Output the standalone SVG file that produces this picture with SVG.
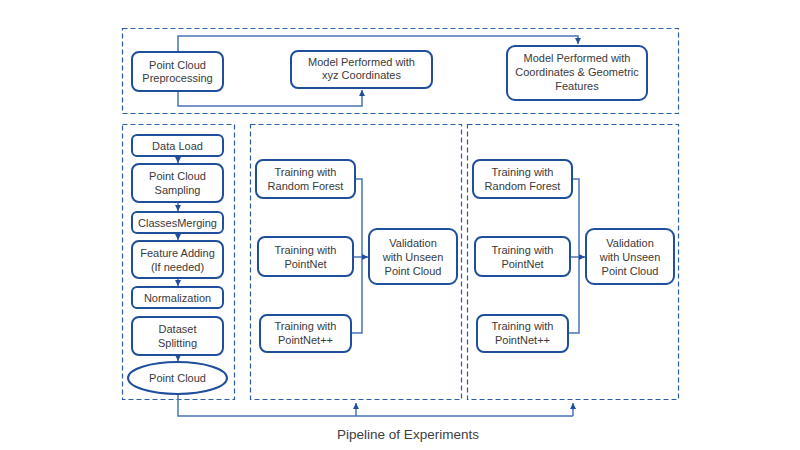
<svg xmlns="http://www.w3.org/2000/svg" width="800" height="450" viewBox="0 0 800 450">
<style>
.grp{fill:none;stroke:#2a5caa;stroke-width:1.2;stroke-dasharray:5,3}
.box{fill:#fff;stroke:#1f4e9c;stroke-width:2}
.t{font-family:"Liberation Sans",Arial,sans-serif;font-size:11px;fill:#3a3a3a;text-anchor:middle}
.cap{font-family:"Liberation Sans",Arial,sans-serif;font-size:13.5px;fill:#404040;text-anchor:middle}
.c{fill:none;stroke:#4a74b8;stroke-width:1.5}
</style>
<defs>
<marker id="a" viewBox="0 0 10 10" refX="10" refY="5" markerWidth="4" markerHeight="4" orient="auto" markerUnits="strokeWidth">
<path d="M0,0L10,5L0,10z" fill="#1f4e9c"/>
</marker>
</defs>
<rect width="800" height="450" fill="#fff"/>
<g id="groups">
<rect class="grp" x="122.5" y="28.5" width="556" height="85"/>
<rect class="grp" x="122.5" y="124.5" width="112" height="275"/>
<rect class="grp" x="250.5" y="124.5" width="211" height="275"/>
<rect class="grp" x="467.5" y="124.5" width="211" height="275"/>
</g>
<g id="connectors">
<path class="c" d="M178,52V36H578V44" marker-end="url(#a)"/>
<path class="c" d="M178,91V106H362V90" marker-end="url(#a)"/>
<path class="c" d="M178,156V163" marker-end="url(#a)"/>
<path class="c" d="M178,202V211" marker-end="url(#a)"/>
<path class="c" d="M178,233V240" marker-end="url(#a)"/>
<path class="c" d="M178,278V286" marker-end="url(#a)"/>
<path class="c" d="M178,355V361" marker-end="url(#a)"/>
<path class="c" d="M178,394V416H573"/>
<path class="c" d="M356,416V403" marker-end="url(#a)"/>
<path class="c" d="M573,416V403" marker-end="url(#a)"/>
<path class="c" d="M355,179H362V333H351"/>
<path class="c" d="M353,257H368" marker-end="url(#a)"/>
<path class="c" d="M572,179H579V333H568"/>
<path class="c" d="M570,257H585" marker-end="url(#a)"/>
</g>
<g id="n-preproc"><rect class="box" x="132" y="52" width="91" height="39" rx="7"/><text class="t" x="177.5" y="69">Point Cloud</text><text class="t" x="177.5" y="82">Preprocessing</text></g>
<g id="n-xyz"><rect class="box" x="291" y="51" width="141" height="37" rx="7"/><text class="t" x="361.5" y="66">Model Performed with</text><text class="t" x="361.5" y="79">xyz Coordinates</text></g>
<g id="n-geo"><rect class="box" x="507" y="46" width="140" height="54" rx="8"/><text class="t" x="577" y="62">Model Performed with</text><text class="t" x="577" y="76">Coordinates &amp; Geometric</text><text class="t" x="577" y="90">Features</text></g>
<g id="n-load"><rect class="box" x="132" y="135" width="91" height="21" rx="5"/><text class="t" x="177.5" y="149.5">Data Load</text></g>
<g id="n-sampling"><rect class="box" x="132" y="164" width="91" height="38" rx="7"/><text class="t" x="177.5" y="180">Point Cloud</text><text class="t" x="177.5" y="194">Sampling</text></g>
<g id="n-merge"><rect class="box" x="132" y="212" width="91" height="21" rx="5"/><text class="t" x="177.5" y="226.5">ClassesMerging</text></g>
<g id="n-feature"><rect class="box" x="132" y="241" width="91" height="37" rx="7"/><text class="t" x="177.5" y="257">Feature Adding</text><text class="t" x="177.5" y="271">(If needed)</text></g>
<g id="n-norm"><rect class="box" x="132" y="287" width="91" height="21" rx="5"/><text class="t" x="177.5" y="301.5">Normalization</text></g>
<g id="n-split"><rect class="box" x="132" y="317" width="91" height="38" rx="7"/><text class="t" x="177.5" y="333">Dataset</text><text class="t" x="177.5" y="347">Splitting</text></g>
<g id="n-pc"><ellipse class="box" cx="177.5" cy="378" rx="49.5" ry="16"/><text class="t" x="177.5" y="382">Point Cloud</text></g>
<g id="n-rf1"><rect class="box" x="256" y="160" width="99" height="38" rx="7"/><text class="t" x="305.5" y="176">Training with</text><text class="t" x="305.5" y="190">Random Forest</text></g>
<g id="n-pn1"><rect class="box" x="258" y="237" width="95" height="39" rx="7"/><text class="t" x="305.5" y="254">Training with</text><text class="t" x="305.5" y="268">PointNet</text></g>
<g id="n-pnpp1"><rect class="box" x="260" y="315" width="91" height="37" rx="7"/><text class="t" x="305.5" y="330">Training with</text><text class="t" x="305.5" y="344">PointNet++</text></g>
<g id="n-val1"><rect class="box" x="369" y="229" width="88" height="55" rx="8"/><text class="t" x="413" y="247">Validation</text><text class="t" x="413" y="261">with Unseen</text><text class="t" x="413" y="275">Point Cloud</text></g>
<g id="n-rf2"><rect class="box" x="473" y="160" width="99" height="38" rx="7"/><text class="t" x="522.5" y="176">Training with</text><text class="t" x="522.5" y="190">Random Forest</text></g>
<g id="n-pn2"><rect class="box" x="475" y="237" width="95" height="39" rx="7"/><text class="t" x="522.5" y="254">Training with</text><text class="t" x="522.5" y="268">PointNet</text></g>
<g id="n-pnpp2"><rect class="box" x="477" y="315" width="91" height="37" rx="7"/><text class="t" x="522.5" y="330">Training with</text><text class="t" x="522.5" y="344">PointNet++</text></g>
<g id="n-val2"><rect class="box" x="586" y="229" width="88" height="55" rx="8"/><text class="t" x="630" y="247">Validation</text><text class="t" x="630" y="261">with Unseen</text><text class="t" x="630" y="275">Point Cloud</text></g>
<text class="cap" x="408" y="439">Pipeline of Experiments</text>
</svg>
